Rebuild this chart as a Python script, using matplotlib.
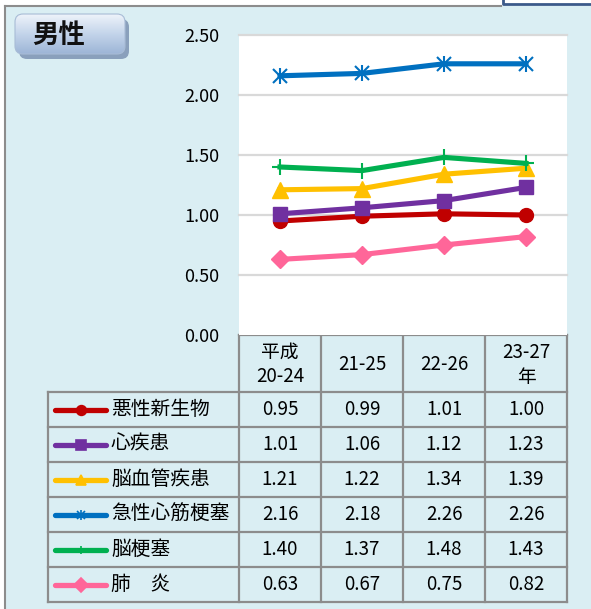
import numpy as np
import matplotlib.pyplot as plt
from matplotlib.patches import Rectangle, FancyBboxPatch
from matplotlib.colors import LinearSegmentedColormap

plt.rcParams['font.family'] = ['Noto Sans CJK JP', 'DejaVu Sans']

# data
periods = ['平成\n20-24', '21-25', '22-26', '23-27\n年']
names = ['悪性新生物', '心疾患', '脳血管疾患', '急性心筋梗塞', '脳梗塞', '肺\u3000炎']
akusei = [0.95, 0.99, 1.01, 1.00]
shin = [1.01, 1.06, 1.12, 1.23]
noukekkan = [1.21, 1.22, 1.34, 1.39]
kyusei = [2.16, 2.18, 2.26, 2.26]
noukousoku = [1.40, 1.37, 1.48, 1.43]
haien = [0.63, 0.67, 0.75, 0.82]
series = [akusei, shin, noukekkan, kyusei, noukousoku, haien]

colors = ['#C00000', '#7030A0', '#FFC000', '#0070C0', '#00B050', '#FF6699']
markers = ['o', 's', '^', 'x', '+', 'D']
msizes = [10, 10, 11, 10, 11, 9]

W, H = 591, 609
fig = plt.figure(figsize=(W / 100, H / 100), dpi=100)
fig.patch.set_facecolor('white')

# background layer in pixel coords
bg = fig.add_axes([0, 0, 1, 1])
bg.set_xlim(0, W)
bg.set_ylim(H, 0)
bg.axis('off')
bg.add_patch(Rectangle((5, 6), W - 5, H - 6, facecolor='#DAEEF3', edgecolor='none'))
bg.plot([5, 5], [6, H], color='#8C8C8C', lw=1.5)
bg.plot([5, 501], [6, 6], color='#8C8C8C', lw=1.5)
bg.plot([503, 503, W], [0, 4, 4], color='#3B5A8A', lw=2)

# title box with gradient
shadow = FancyBboxPatch((19, 19), 110, 40, boxstyle='round,pad=0,rounding_size=8',
                        facecolor='#7C93B3', edgecolor='none', alpha=0.85, zorder=1)
bg.add_patch(shadow)
box = FancyBboxPatch((15, 14), 110, 40, boxstyle='round,pad=0,rounding_size=8',
                     facecolor='none', edgecolor='#A8BCD6', lw=0.8, zorder=3)
bg.add_patch(box)
grad = np.linspace(0, 1, 64).reshape(-1, 1)
cmap = LinearSegmentedColormap.from_list('g', ['#EEF3FA', '#C3D4EA', '#9DB5D6'])
im = bg.imshow(grad, cmap=cmap, extent=(15, 125, 54, 14), aspect='auto', zorder=2)
im.set_clip_path(box)
bg.set_xlim(0, W)
bg.set_ylim(H, 0)
bg.text(59, 35, '男性', fontsize=19, fontweight='bold', ha='center', va='center',
        color='#111111', zorder=4)

# main chart
x0, x1, y0, y1 = 239, 567, 35, 335
ax = fig.add_axes([x0 / W, 1 - y1 / H, (x1 - x0) / W, (y1 - y0) / H])
ax.set_facecolor('white')
ax.set_xlim(-0.5, 3.5)
ax.set_ylim(0, 2.5)
for s in ax.spines.values():
    s.set_visible(False)
ax.set_xticks([])
ax.set_yticks(np.arange(0, 2.51, 0.5))
ax.set_yticklabels([f'{v:.2f}' for v in np.arange(0, 2.51, 0.5)], fontsize=13)
ax.tick_params(axis='y', length=0, pad=14)
for v in np.arange(0.5, 2.51, 0.5):
    ax.axhline(v, color='#D9D9D9', lw=1.6, clip_on=False, zorder=1)

xs = np.arange(len(periods))
for vals, c, m, ms in zip(series, colors, markers, msizes):
    mew = 1.5 if m in ('+', 'x') else 1
    ax.plot(xs, vals, color=c, lw=3.7, marker=m, markersize=ms, markeredgecolor=c,
            markeredgewidth=mew, zorder=3, clip_on=False)
    if m == 'x':
        ax.plot(xs, vals, ls='none', marker='|', markersize=ms + 2, color=c,
                markeredgewidth=1.5, zorder=3, clip_on=False)

# data table
cols = [239, 321, 403, 485, 567]
rows = [335, 392, 427, 462, 497, 532, 567, 602]
lc = '#8C8C8C'
lw = 1.6
bg.plot([cols[0], cols[-1]], [rows[0], rows[0]], color=lc, lw=lw)
for y in rows[1:]:
    bg.plot([48, cols[-1]], [y, y], color=lc, lw=lw)
bg.plot([48, 48], [rows[1], rows[-1]], color=lc, lw=lw)
for x in cols:
    bg.plot([x, x], [rows[0], rows[-1]], color=lc, lw=lw)

for j, p in enumerate(periods):
    bg.text((cols[j] + cols[j + 1]) / 2, (rows[0] + rows[1]) / 2 + 1, p,
            ha='center', va='center', fontsize=13.5, linespacing=1.25)

for i, (name, vals, c, m) in enumerate(zip(names, series, colors, markers)):
    yc = (rows[i + 1] + rows[i + 2]) / 2
    bg.plot([55, 106], [yc, yc], color=c, lw=3.8, solid_capstyle='round')
    lms = 7 if m not in ('+', 'x') else 6
    bg.plot([80.5], [yc], marker=m, color=c, markersize=lms, markeredgecolor=c,
            markeredgewidth=1.2)
    if m == 'x':
        bg.plot([80.5], [yc], marker='|', color=c, markersize=lms + 1,
                markeredgewidth=1.2)
    bg.text(111, yc, name, ha='left', va='center', fontsize=14.2)
    for j, v in enumerate(vals):
        bg.text((cols[j] + cols[j + 1]) / 2, yc, f'{v:.2f}', ha='center', va='center',
                fontsize=13.5)

fig.savefig('out.png', dpi=100)
